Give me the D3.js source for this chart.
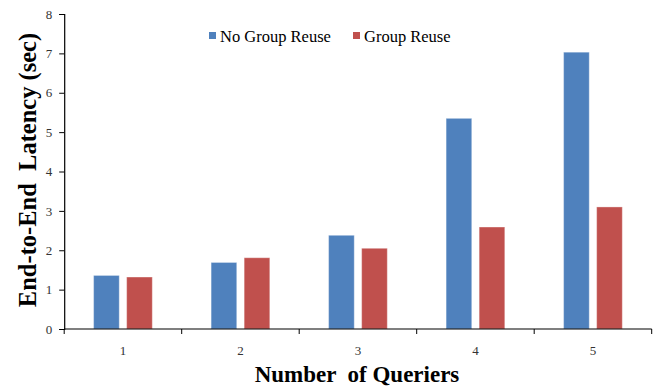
<!DOCTYPE html>
<html>
<head>
<meta charset="utf-8">
<script src="https://cdn.jsdelivr.net/npm/d3@7"></script>
<style>
  html, body { margin: 0; padding: 0; background: #fff; }
  svg { display: block; }
</style>
</head>
<body>
<div id="chart"></div>
<script>
// Latency measurements per number of queriers
const categories = ["1", "2", "3", "4", "5"];
const seriesNames = ["No Group Reuse", "Group Reuse"];
const noGroupReuse = [1.36, 1.69, 2.38, 5.35, 7.03];
const groupReuse = [1.32, 1.81, 2.05, 2.59, 3.10];
const yTicks = [0, 1, 2, 3, 4, 5, 6, 7, 8];
const colors = ["#4F81BD", "#C0504D"];
const FONT = '"Liberation Serif"';

const W = 657, H = 391;
const svg = d3.select("#chart").append("svg")
  .attr("width", W).attr("height", H);

const plotLeft = 64.2, plotRight = 651.7, plotTop = 14, plotBottom = 329;

const x0 = d3.scaleBand().domain(categories).range([plotLeft, plotRight]).padding(0);
const x1 = d3.scaleBand().domain(seriesNames).range([0, x0.bandwidth()])
  .paddingInner(0.224).paddingOuter(0.89);
const y = d3.scaleLinear().domain([0, 8]).range([plotBottom, plotTop]);

const rows = categories.map((c, i) => ({
  cat: c,
  values: [
    { name: seriesNames[0], v: noGroupReuse[i] },
    { name: seriesNames[1], v: groupReuse[i] }
  ]
}));

// bars
const groups = svg.append("g").selectAll("g").data(rows).join("g")
  .attr("transform", d => `translate(${x0(d.cat)},0)`);
groups.selectAll("rect").data(d => d.values).join("rect")
  .attr("x", d => x1(d.name))
  .attr("y", d => y(d.v))
  .attr("width", x1.bandwidth())
  .attr("height", d => y(0) - y(d.v))
  .attr("fill", (d, i) => colors[i])
  .attr("stroke", "#ffffff")
  .attr("stroke-opacity", 0.35)
  .attr("stroke-width", 1);

// y axis
const yAxis = svg.append("g")
  .attr("transform", `translate(${plotLeft},0)`)
  .call(d3.axisLeft(y).tickValues(yTicks).tickSize(5).tickPadding(7).tickFormat(d3.format("d")));
yAxis.select(".domain").attr("stroke", "#000").attr("stroke-width", 1.2);
yAxis.selectAll(".tick line").attr("stroke", "#000");
yAxis.selectAll(".tick text")
  .attr("fill", "#333")
  .style("font-size", "13px")
  .style("font-family", FONT);

// x axis: boundary ticks between categories
const xAxisG = svg.append("g").attr("transform", `translate(0,${plotBottom})`);
xAxisG.append("line")
  .attr("x1", plotLeft).attr("x2", plotRight).attr("y1", 0).attr("y2", 0)
  .attr("stroke", "#000").attr("stroke-width", 1.2);
const boundaries = categories.map(c => x0(c)).concat([x0(categories[categories.length - 1]) + x0.bandwidth()]);
xAxisG.selectAll("line.tk").data(boundaries).join("line")
  .attr("class", "tk")
  .attr("x1", d => d).attr("x2", d => d)
  .attr("y1", 0).attr("y2", 5)
  .attr("stroke", "#000");
xAxisG.selectAll("text").data(categories).join("text")
  .attr("x", d => x0(d) + x0.bandwidth() / 2)
  .attr("y", 26)
  .attr("text-anchor", "middle")
  .attr("fill", "#333")
  .style("font-family", FONT)
  .style("font-size", "13px")
  .text(d => d);

// axis titles
svg.append("text")
  .attr("x", 357).attr("y", 382)
  .attr("text-anchor", "middle")
  .style("font-family", FONT)
  .style("white-space", "pre")
  .style("font-size", "23px").style("font-weight", "bold")
  .attr("fill", "#000")
  .text("Number  of Queriers");

svg.append("text")
  .attr("transform", "translate(36,170) rotate(-90)")
  .attr("text-anchor", "middle")
  .style("font-family", FONT)
  .style("white-space", "pre")
  .style("font-size", "24.5px").style("font-weight", "bold")
  .attr("fill", "#000")
  .text("End-to-End  Latency (sec)");

// legend
const legendX = [209, 353];
const legend = svg.append("g").selectAll("g").data(seriesNames).join("g")
  .attr("transform", (d, i) => `translate(${legendX[i]},0)`);
legend.append("rect")
  .attr("x", 0).attr("y", 32).attr("width", 7).attr("height", 7)
  .attr("fill", (d, i) => colors[i]);
legend.append("text")
  .attr("x", 11).attr("y", 41.5)
  .style("font-family", FONT)
  .style("font-size", "16.5px")
  .attr("fill", "#000")
  .text(d => d);
</script>
</body>
</html>
